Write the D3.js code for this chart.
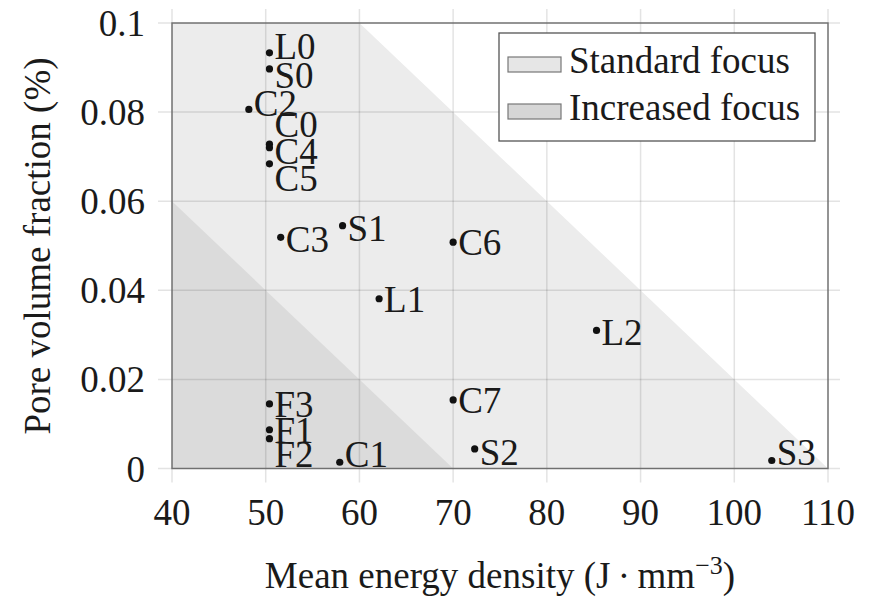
<!DOCTYPE html>
<html>
<head>
<meta charset="utf-8">
<script src="https://cdnjs.cloudflare.com/ajax/libs/d3/7.8.5/d3.min.js"></script>
<style>
  body { margin: 0; background: #fff; }
  text { font-family: "Liberation Serif", "DejaVu Serif", serif; fill: #1a1a1a; }
</style>
</head>
<body>
<div class="chart"></div>
<script>
// data
let names = ["L0","S0","C2","C0","C4","C5","C3","S1","C6","L1","L2","F3","C7","F1","F2","C1","S2","S3"];
let energy = [50.4,50.4,48.2,50.4,50.4,50.4,51.6,58.2,70.0,62.1,85.3,50.4,70.0,50.4,50.4,57.9,72.3,104.0];
let pores = [0.0933,0.0897,0.0806,0.0728,0.0720,0.0684,0.0519,0.0545,0.0508,0.0381,0.0310,0.0145,0.0154,0.0087,0.0067,0.0014,0.0044,0.0018];

let xTicks = [40,50,60,70,80,90,100,110];
let yTicks = [0,0.02,0.04,0.06,0.08,0.1];
let yTickLabels = ["0","0.02","0.04","0.06","0.08","0.1"];

// focus regions (polygon corners in data units)
let standardX = [40,40,60,110];
let standardY = [0,0.1,0.1,0];
let increasedX = [40,40,70];
let increasedY = [0,0.06,0];

let legendNames = ["Standard focus","Increased focus"];
let legendColors = ["#e6e6e6","#d6d6d6"];

// label shift (px, baseline relative to the dot) so the names do not collide
let labelDy = [6,19,7,-7,16,27,15,15,13,13,15,13,13,13,28,5,16,5];

let w = 870, h = 600;
let mLeft = 172, mRight = 828, mTop = 23, mBottom = 468.5;

let svg = d3.select(".chart")
  .append("svg")
  .attr("width", w)
  .attr("height", h);

let x = d3.scaleLinear().domain([40,110]).range([mLeft,mRight]);
let y = d3.scaleLinear().domain([0,0.1]).range([mBottom,mTop]);

let poly = (xs, ys) => xs.map((v, i) => [x(v), y(ys[i])].join(",")).join(" ");

// shaded regions
svg.append("polygon")
  .attr("points", poly(standardX, standardY))
  .attr("fill", "#ececec");
svg.append("polygon")
  .attr("points", poly(increasedX, increasedY))
  .attr("fill", "#dbdbdb");

// grid, running a bit past the box like in the original
svg.selectAll(".gx")
  .data(xTicks)
  .enter()
  .append("line")
  .attr("x1", d => x(d)).attr("x2", d => x(d))
  .attr("y1", mTop - 14).attr("y2", mBottom + 14)
  .attr("stroke", "#000").attr("stroke-opacity", 0.11).attr("stroke-width", 1.5);
svg.selectAll(".gy")
  .data(yTicks)
  .enter()
  .append("line")
  .attr("y1", d => y(d)).attr("y2", d => y(d))
  .attr("x1", mLeft - 14).attr("x2", mRight + 12)
  .attr("stroke", "#000").attr("stroke-opacity", 0.11).attr("stroke-width", 1.5);

// axis box
svg.append("rect")
  .attr("x", mLeft).attr("y", mTop)
  .attr("width", mRight - mLeft).attr("height", mBottom - mTop)
  .attr("fill", "none")
  .attr("stroke", "#707070")
  .attr("stroke-width", 1.4);

// tick labels
svg.selectAll(".tx")
  .data(xTicks)
  .enter()
  .append("text")
  .attr("x", d => x(d))
  .attr("y", 525)
  .attr("text-anchor", "middle")
  .attr("font-size", 37)
  .text(d => d);
svg.selectAll(".ty")
  .data(yTicks)
  .enter()
  .append("text")
  .attr("x", 145)
  .attr("y", d => y(d) + 13)
  .attr("text-anchor", "end")
  .attr("font-size", 37)
  .text((d, i) => yTickLabels[i]);

// axis titles
let xt = svg.append("text")
  .attr("x", (mLeft + mRight) / 2)
  .attr("y", 588)
  .attr("text-anchor", "middle")
  .attr("font-size", 37);
xt.append("tspan").text("Mean energy density (J\u2009\u00b7\u2009mm");
xt.append("tspan").attr("font-size", 26).attr("dy", -14).text("\u22123");
xt.append("tspan").attr("dy", 14).text(")");

svg.append("text")
  .attr("transform", "translate(50,246) rotate(-90)")
  .attr("text-anchor", "middle")
  .attr("font-size", 37)
  .text("Pore volume fraction (%)");

// points + names
let pts = svg.selectAll(".pt")
  .data(names)
  .enter()
  .append("g");
pts.append("circle")
  .attr("cx", (d, i) => x(energy[i]))
  .attr("cy", (d, i) => y(pores[i]))
  .attr("r", 3.6)
  .attr("fill", "#111");
pts.append("text")
  .attr("x", (d, i) => x(energy[i]) + 5)
  .attr("y", (d, i) => y(pores[i]) + labelDy[i])
  .attr("font-size", 37)
  .text(d => d);

// legend
let lg = svg.append("g");
lg.append("rect")
  .attr("x", 499).attr("y", 33)
  .attr("width", 316).attr("height", 108)
  .attr("fill", "#fff")
  .attr("stroke", "#555")
  .attr("stroke-width", 1.3);
legendNames.forEach((n, i) => {
  let by = 73 + i * 47;
  lg.append("rect")
    .attr("x", 508).attr("y", by - 16)
    .attr("width", 53).attr("height", 15)
    .attr("fill", legendColors[i])
    .attr("stroke", "#777")
    .attr("stroke-width", 1.2);
  lg.append("text")
    .attr("x", 569).attr("y", by)
    .attr("font-size", 37)
    .text(n);
});
</script>
</body>
</html>
